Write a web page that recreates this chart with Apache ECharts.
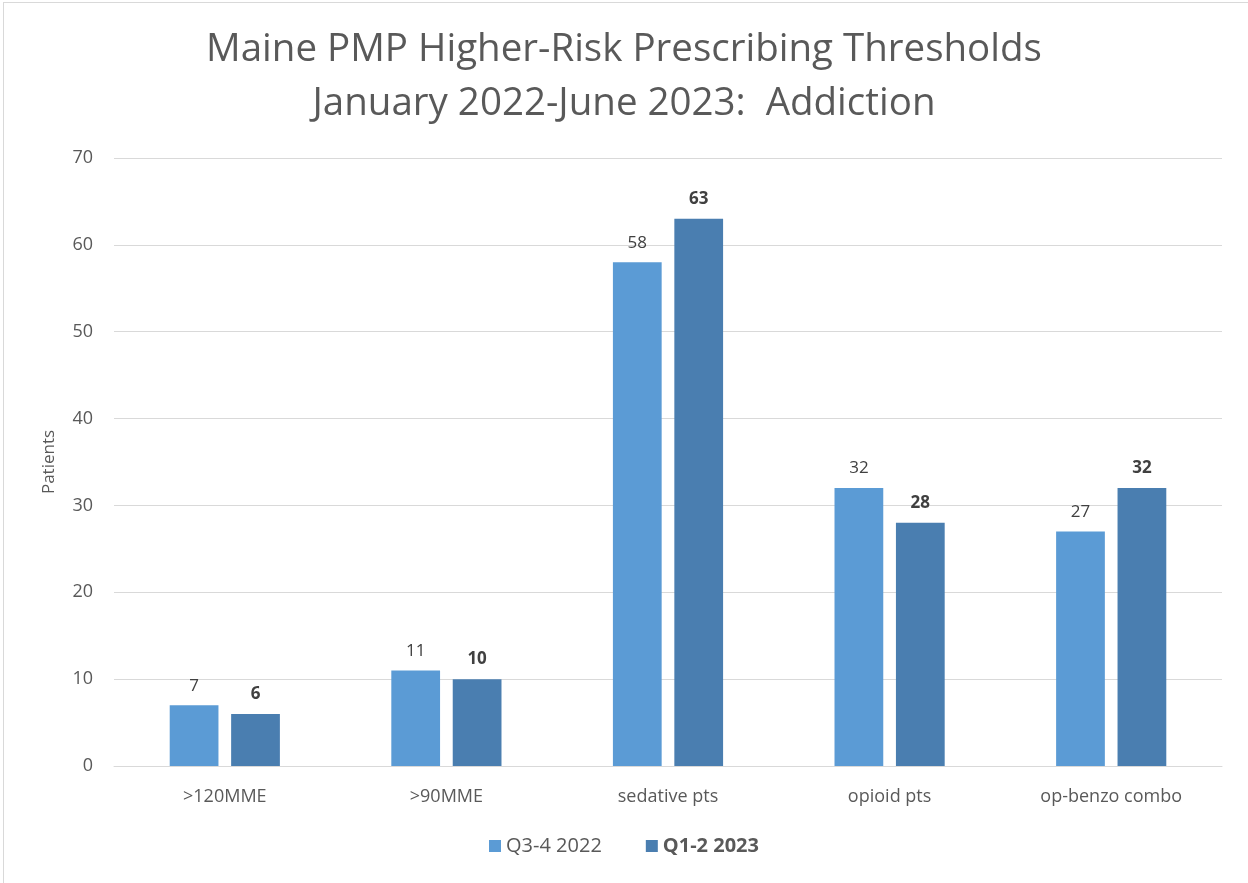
<!DOCTYPE html>
<html>
<head>
<meta charset="utf-8">
<script src="https://cdn.jsdelivr.net/npm/echarts@6/dist/echarts.min.js"></script>
<style>
html,body{margin:0;padding:0;background:#fff;}
#wrap{position:absolute;left:3px;top:2px;width:1260px;height:900px;border:1px solid #d9d9d9;box-sizing:border-box;}
#chart{position:absolute;left:0;top:0;width:1248px;height:883px;}
</style>
</head>
<body>
<div id="wrap"></div>
<div id="chart"></div>
<script>
var categories = ['>120MME', '>90MME', 'sedative pts', 'opioid pts', 'op-benzo combo'];
var seriesNames = ['Q3-4 2022', 'Q1-2 2023'];
var q34_2022 = [7, 11, 58, 32, 27];
var q12_2023 = [6, 10, 63, 28, 32];
var yTicks = [0, 10, 20, 30, 40, 50, 60, 70];

var font = 'Open Sans';
var chart = echarts.init(document.getElementById('chart'), null, {renderer: 'canvas'});
chart.setOption({
  backgroundColor: 'transparent',
  textStyle: {fontFamily: font},
  title: {
    text: 'Maine PMP Higher-Risk Prescribing Thresholds\nJanuary 2022-June 2023:  Addiction',
    left: 'center',
    top: 18,
    textStyle: {fontFamily: font, fontSize: 38.5, fontWeight: 'normal', color: '#595959', lineHeight: 54}
  },
  legend: {
    bottom: 22,
    left: 'center',
    itemWidth: 12,
    itemHeight: 12,
    itemGap: 44,
    icon: 'rect',
    data: seriesNames,
    formatter: function (n) { return n === seriesNames[1] ? '{b|' + n + '}' : '{n|' + n + '}'; },
    textStyle: {
      rich: {
        n: {fontFamily: font, fontSize: 20, color: '#595959'},
        b: {fontFamily: font, fontSize: 20, color: '#595959', fontWeight: 'bold'}
      }
    }
  },
  grid: {left: 114, right: 26, top: 158, bottom: 117, containLabel: false},
  xAxis: {
    type: 'category',
    data: categories,
    axisLine: {lineStyle: {color: '#d9d9d9'}},
    axisTick: {show: false},
    axisLabel: {fontFamily: font, fontSize: 18, color: '#595959', margin: 22}
  },
  yAxis: {
    type: 'value',
    min: yTicks[0],
    max: yTicks[yTicks.length - 1],
    interval: 10,
    name: 'Patients',
    nameLocation: 'middle',
    nameGap: 56,
    nameTextStyle: {fontFamily: font, fontSize: 17, color: '#595959'},
    axisLine: {show: false},
    axisTick: {show: false},
    splitLine: {lineStyle: {color: '#d9d9d9'}},
    axisLabel: {fontFamily: font, fontSize: 18, color: '#595959', margin: 21}
  },
  series: [
    {
      name: seriesNames[0],
      type: 'bar',
      data: q34_2022,
      barWidth: '22%',
      barGap: '26%',
      itemStyle: {color: '#5b9bd5'},
      label: {show: true, position: 'top', distance: 11, fontFamily: font, fontSize: 17, color: '#404040'}
    },
    {
      name: seriesNames[1],
      type: 'bar',
      data: q12_2023,
      barWidth: '22%',
      itemStyle: {color: '#4a7eb0'},
      label: {show: true, position: 'top', distance: 11, fontFamily: font, fontSize: 17, fontWeight: 'bold', color: '#404040'}
    }
  ]
});
</script>
</body>
</html>
